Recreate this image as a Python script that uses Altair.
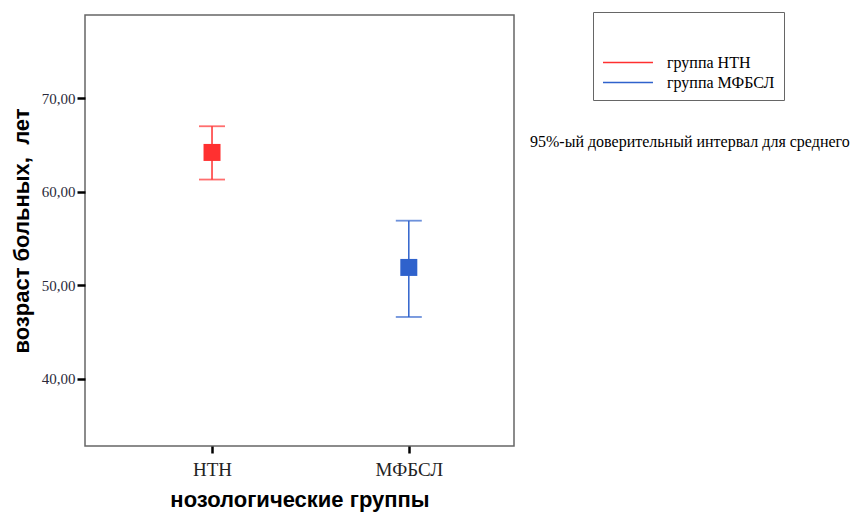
import altair as alt
import pandas as pd

# Group means of patient age with 95% confidence limits
groups = ["НТН", "МФБСЛ"]
series = ["группа НТН", "группа МФБСЛ"]
means = [64.2, 51.9]
lower = [61.3, 46.6]
upper = [67.0, 56.9]
colors = ["#ff3030", "#2f62cc"]
y_ticks = [40, 50, 60, 70]
note = "95%-ый доверительный интервал для среднего"

df = pd.DataFrame({
    "group": groups,
    "series": series,
    "mean": means,
    "lo": lower,
    "hi": upper,
})

serif = "Liberation Serif"
sans = "Liberation Sans"

x_enc = alt.X(
    "group:N",
    sort=groups,
    scale=alt.Scale(type="point", domain=groups, padding=0.59, align=0.547),
    axis=alt.Axis(
        title="нозологические группы",
        titleFont=sans, titleFontSize=22, titleFontWeight="bold", titleColor="#000",
        titlePadding=10,
        labelFont=serif, labelFontSize=19, labelColor="#222", labelAngle=0, labelPadding=7,
        domain=False, tickColor="#000", tickWidth=2.5, tickSize=7,
    ),
)
y_scale = alt.Scale(domain=[32.8, 78.9], nice=False, zero=False)
y_axis = alt.Axis(
    title="возраст больных,\u00a0 лет",
    titleFont=sans, titleFontSize=22, titleFontWeight="bold", titleColor="#000",
    titlePadding=8,
    values=y_ticks,
    labelExpr="replace(format(datum.value, '.2f'), '.', ',')",
    labelFont=serif, labelFontSize=15, labelColor="#2a2a3a", labelPadding=2,
    domain=False, grid=False, tickColor="#000", tickWidth=2.5, tickSize=8,
)
color_scale = alt.Scale(domain=series, range=colors)
color_enc = alt.Color(
    "series:N",
    scale=color_scale,
    legend=alt.Legend(
        title=" ", titleFontSize=20, titlePadding=10,
        orient="none", legendX=508, legendY=-3,
        # long horizontal stroke as the legend swatch
        symbolType="M-1,0H3.76", symbolSize=441, symbolStrokeWidth=1.5,
        symbolFillColor="transparent",
        labelFont=serif, labelFontSize=16, labelColor="#000", labelOffset=42,
        rowPadding=0, padding=9, strokeColor="#666", fillColor="#fff",
    ),
)

base = alt.Chart(df).encode(x=x_enc)

bars = base.mark_rule(strokeWidth=1.5).encode(
    y=alt.Y("lo:Q", scale=y_scale, axis=y_axis),
    y2="hi:Q",
    color=color_enc,
)
caps_hi = base.mark_tick(size=26, thickness=1.8).encode(
    y=alt.Y("hi:Q", scale=y_scale),
    color=alt.Color("series:N", scale=color_scale, legend=None),
)
caps_lo = base.mark_tick(size=26, thickness=1.8).encode(
    y=alt.Y("lo:Q", scale=y_scale),
    color=alt.Color("series:N", scale=color_scale, legend=None),
)
points = base.mark_square(size=289, opacity=1, filled=True).encode(
    y=alt.Y("mean:Q", scale=y_scale),
    color=alt.Color("series:N", scale=color_scale, legend=None),
)

footnote = alt.Chart(pd.DataFrame({"t": [note]})).mark_text(
    align="left", baseline="middle", font=serif, fontSize=16, color="#000"
).encode(x=alt.value(445), y=alt.value(127), text="t:N")

chart = alt.layer(bars, caps_hi, caps_lo, points, footnote).properties(
    width=429,
    height=431,
    autosize=alt.AutoSizeParams(type="none"),
    padding={"left": 85, "top": 15, "right": 341, "bottom": 67},
    background="#ffffff",
).configure_view(stroke="#666", strokeWidth=1.5)

chart.save("out.html", embed_options={"renderer": "svg", "actions": False})
